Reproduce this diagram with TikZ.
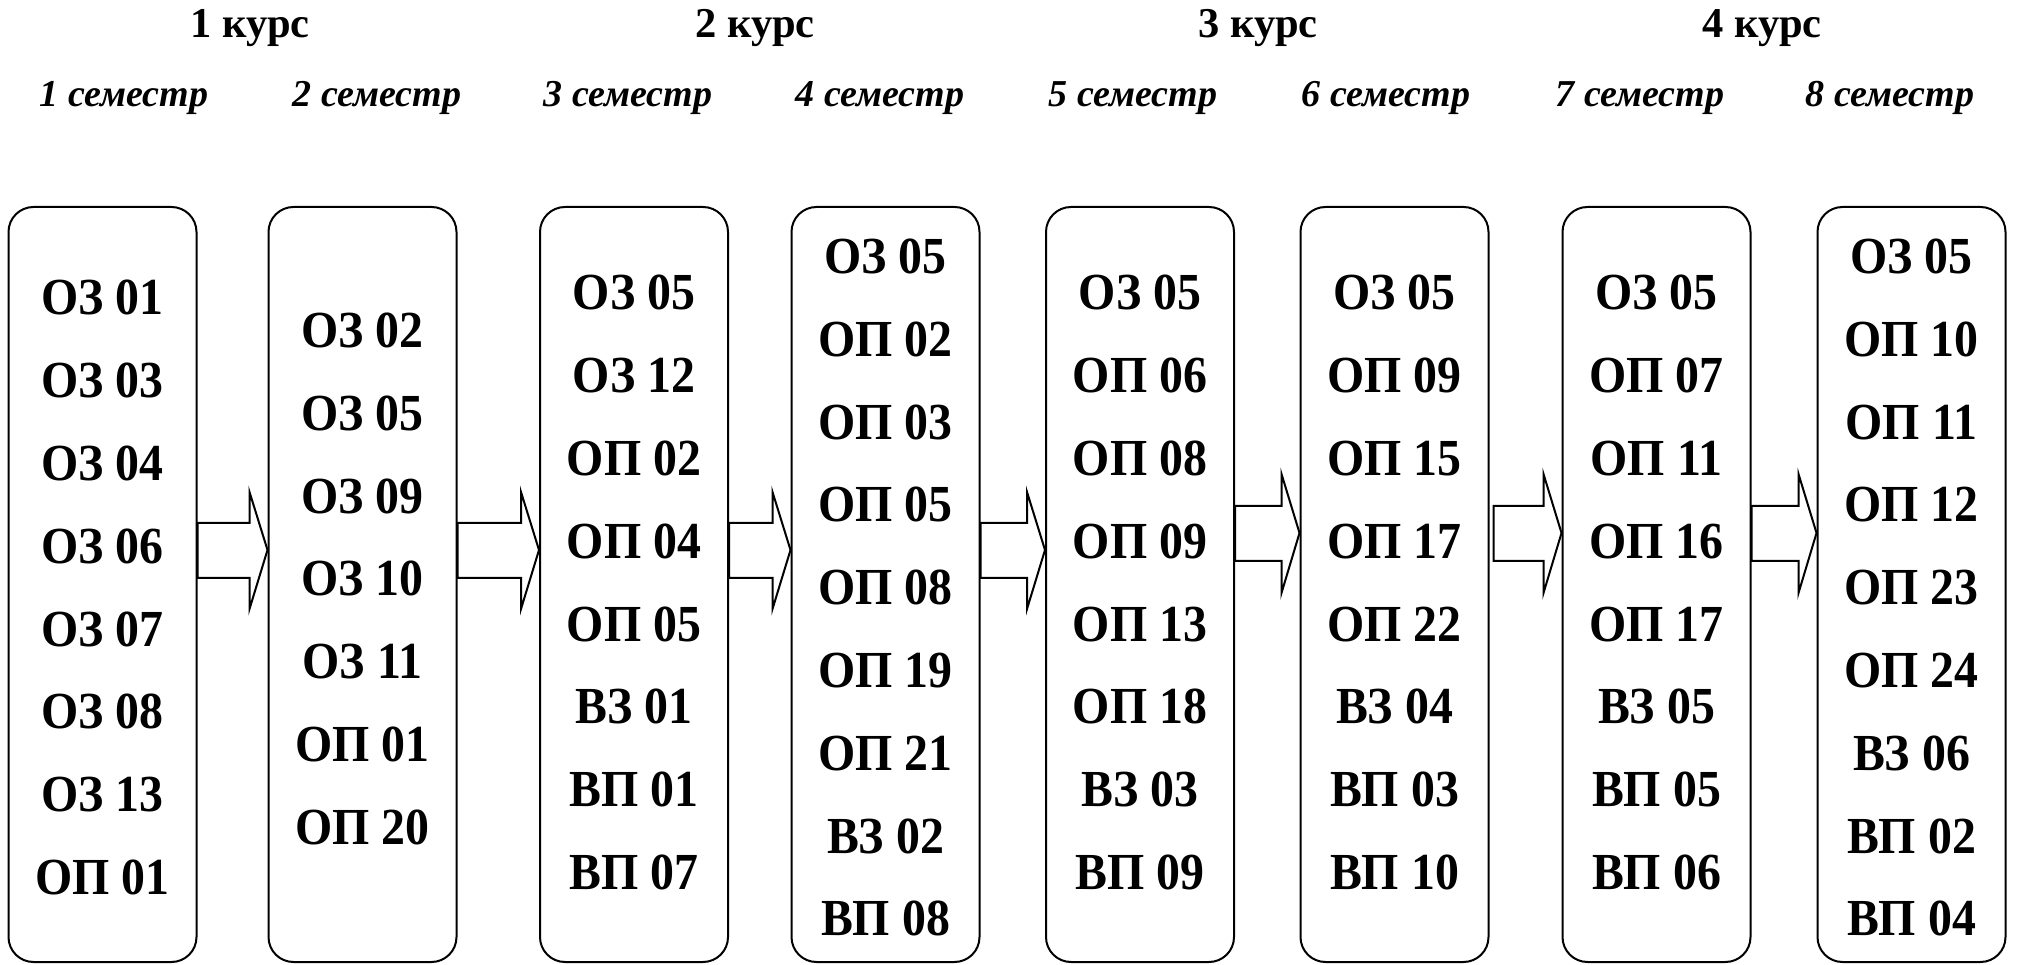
\documentclass[tikz,border=0pt]{standalone}
\usepackage{fontspec}
\setmainfont{Liberation Serif}
\usepackage{graphicx}
\usetikzlibrary{calc}
\tikzset{
 box/.style={draw, line width=2pt, rounded corners=25pt, minimum width=188pt, minimum height=755pt, inner sep=0pt},
 item/.style={anchor=base, inner sep=0pt, font=\fontsize{52}{60}\selectfont\bfseries},
 course/.style={anchor=base, inner sep=0pt, font=\fontsize{42.5}{48}\selectfont\bfseries},
 sem/.style={anchor=base, inner sep=0pt, font=\fontsize{38}{44}\selectfont\bfseries\itshape},
 blkarrow/.style={draw, line width=2pt, fill=white, line join=miter},
}
\newcommand{\boxitems}[3]{%
 \foreach \itemtext [count=\i] in {#3} {%
  \node[item] (#1-\i) at ($(#1.north)+(0,{-(#2)-(\i-1)*82.8})$) {\scalebox{0.92}[1]{\itemtext}};
 }}
\newcommand{\blockarrow}[4]{%
 \draw[blkarrow] ($(#1.east |- s#3t)+(#4,0)$) -- ($(#2.west |- s#3t)+(-18,0)$) -- ($(#2.west |- h#3t)+(-18,0)$) -- (#2.west |- t#3) -- ($(#2.west |- h#3b)+(-18,0)$) -- ($(#2.west |- s#3b)+(-18,0)$) -- ($(#1.east |- s#3b)+(#4,0)$) -- cycle;}
\begin{document}
\begin{tikzpicture}[x=1pt,y=1pt]
\useasboundingbox (0,0) rectangle (2018,964);
% headers
\node[course] (k1) at (250,926) {1 курс};
\node[course] (k2) at (755,926) {2 курс};
\node[course] (k3) at (1258,926) {3 курс};
\node[course] (k4) at (1762,926) {4 курс};
\node[sem] (s1) at (124,857) {1 семестр};
\node[sem] (s2) at (377,857) {2 семестр};
\node[sem] (s3) at (628,857) {3 семестр};
\node[sem] (s4) at (880,857) {4 семестр};
\node[sem] (s5) at (1133,857) {5 семестр};
\node[sem] (s6) at (1386,857) {6 семестр};
\node[sem] (s7) at (1640,857) {7 семестр};
\node[sem] (s8) at (1890,857) {8 семестр};
% boxes
\node[box] (b1) at (102.5,379.5) {};
\node[box] (b2) at (362.5,379.5) {};
\node[box] (b3) at (634,379.5) {};
\node[box] (b4) at (885.5,379.5) {};
\node[box] (b5) at (1140,379.5) {};
\node[box] (b6) at (1394.5,379.5) {};
\node[box] (b7) at (1656.5,379.5) {};
\node[box] (b8) at (1911.5,379.5) {};
% arrow levels
\coordinate (sAt) at (0,441);
\coordinate (sAb) at (0,386);
\coordinate (hAt) at (0,472);
\coordinate (hAb) at (0,355);
\coordinate (tA) at (0,414);
\coordinate (sBt) at (0,458);
\coordinate (sBb) at (0,403);
\coordinate (hBt) at (0,490);
\coordinate (hBb) at (0,371);
\coordinate (tB) at (0,431);
\blockarrow{b1}{b2}{A}{0}
\blockarrow{b2}{b3}{A}{0}
\blockarrow{b3}{b4}{A}{0}
\blockarrow{b4}{b5}{A}{0}
\blockarrow{b5}{b6}{B}{0}
\blockarrow{b6}{b7}{B}{4}
\blockarrow{b7}{b8}{B}{0}
% contents
\boxitems{b1}{109}{ОЗ 01,ОЗ 03,ОЗ 04,ОЗ 06,ОЗ 07,ОЗ 08,ОЗ 13,ОП 01}
\boxitems{b2}{141.5}{ОЗ 02,ОЗ 05,ОЗ 09,ОЗ 10,ОЗ 11,ОП 01,ОП 20}
\boxitems{b3}{104}{ОЗ 05,ОЗ 12,ОП 02,ОП 04,ОП 05,ВЗ 01,ВП 01,ВП 07}
\boxitems{b4}{67.5}{ОЗ 05,ОП 02,ОП 03,ОП 05,ОП 08,ОП 19,ОП 21,ВЗ 02,ВП 08}
\boxitems{b5}{104}{ОЗ 05,ОП 06,ОП 08,ОП 09,ОП 13,ОП 18,ВЗ 03,ВП 09}
\boxitems{b6}{104}{ОЗ 05,ОП 09,ОП 15,ОП 17,ОП 22,ВЗ 04,ВП 03,ВП 10}
\boxitems{b7}{104}{ОЗ 05,ОП 07,ОП 11,ОП 16,ОП 17,ВЗ 05,ВП 05,ВП 06}
\boxitems{b8}{67.5}{ОЗ 05,ОП 10,ОП 11,ОП 12,ОП 23,ОП 24,ВЗ 06,ВП 02,ВП 04}
\end{tikzpicture}
\end{document}
